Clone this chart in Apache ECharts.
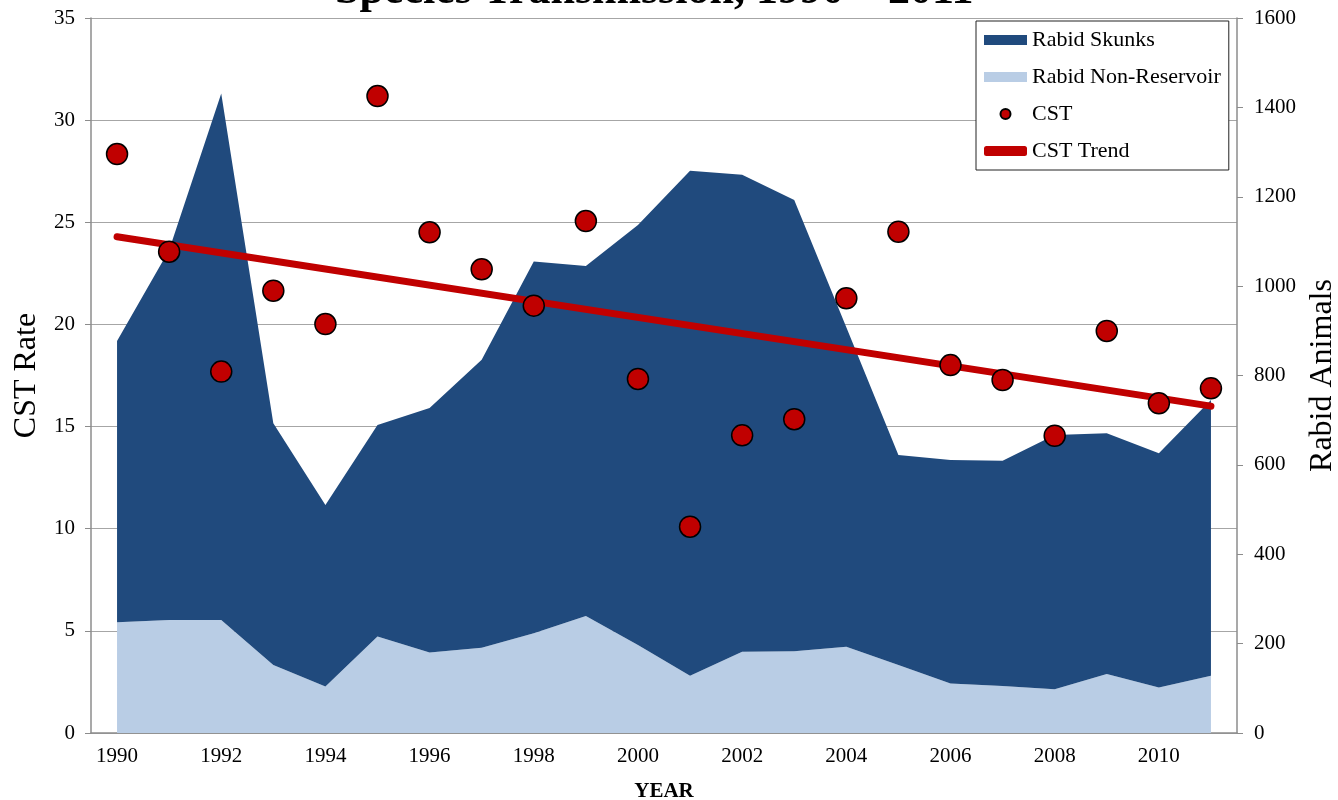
<!DOCTYPE html>
<html>
<head>
<meta charset="utf-8">
<title>Species Transmission</title>
<script src="https://cdn.jsdelivr.net/npm/echarts@6/dist/echarts.min.js"></script>
<style>
  html, body { margin: 0; padding: 0; background: #fff; }
  #chart { width: 1338px; height: 800px; }
</style>
</head>
<body>
<div id="chart"></div>
<script>
// values
var years = ['1990', '1991', '1992', '1993', '1994', '1995', '1996', '1997', '1998', '1999', '2000',
             '2001', '2002', '2003', '2004', '2005', '2006', '2007', '2008', '2009', '2010', '2011'];

// Rabid animals (right axis), stacked: non-reservoir at the bottom, skunks on top
var nonReservoir = [248, 253, 253, 152, 104, 216, 180, 191, 223, 262, 197,
                    128, 182, 183, 193, 152, 111, 105, 98, 132, 102, 128];
var skunks = [629, 828, 1178, 541, 406, 473, 547, 644, 832, 783, 940,
              1130, 1067, 1010, 715, 470, 500, 504, 569, 539, 524, 617];

// CST rate (left axis)
var cst = [28.34, 23.56, 17.69, 21.65, 20.02, 31.18, 24.51, 22.70, 20.92, 25.06, 17.33,
           10.10, 14.57, 15.36, 21.28, 24.54, 18.01, 17.28, 14.55, 19.68, 16.14, 16.87];

// straight trend line, start and end
var trendYears = ['1990', '2011'];
var trendValues = [24.29, 16.0];

var serif = 'Liberation Serif';
var axisGray = '#8c8c8c';

var chart = echarts.init(document.getElementById('chart'));

var option = {
    animation: false,
    backgroundColor: '#ffffff',
    textStyle: { fontFamily: serif },

    title: {
        text: 'Species Transmission, 1990 \u2013 2011',
        left: 330,
        top: -35,
        textStyle: { fontFamily: serif, fontSize: 44, fontWeight: 'bold', color: '#000' }
    },

    grid: {
        left: 91,
        right: 101,
        top: 18,
        bottom: 67,
        outerBoundsMode: 'none'
    },

    legend: {
        orient: 'vertical',
        left: 976,
        top: 21,
        padding: [8, 8, 8, 8],
        itemGap: 15,
        itemWidth: 43,
        itemHeight: 10,
        backgroundColor: '#fff',
        borderColor: '#222',
        borderWidth: 1,
        textStyle: { fontFamily: serif, fontSize: 22, color: '#000' },
        data: [
            { name: 'Rabid Skunks', icon: 'rect' },
            { name: 'Rabid Non-Reservoir', icon: 'rect' },
            { name: 'CST', icon: 'circle' },
            { name: 'CST Trend', icon: 'roundRect' }
        ]
    },

    xAxis: [{
        type: 'category',
        data: years,
        boundaryGap: true,
        name: 'YEAR',
        nameLocation: 'middle',
        nameGap: 48,
        nameTextStyle: { fontFamily: serif, fontSize: 21, fontWeight: 'bold', color: '#000' },
        axisLine: { lineStyle: { color: axisGray, width: 1.5 } },
        axisTick: { interval: 0, length: 6, lineStyle: { color: axisGray } },
        axisLabel: { interval: 1, margin: 13, fontFamily: serif, fontSize: 21, color: '#000' },
        splitLine: { show: false }
    }],

    yAxis: [
        {
            type: 'value',
            min: 0,
            max: 35,
            interval: 5,
            name: 'CST Rate',
            nameLocation: 'middle',
            nameGap: 48,
            nameTextStyle: { fontFamily: serif, fontSize: 32, color: '#000' },
            axisLine: { show: true, lineStyle: { color: axisGray, width: 1.5 } },
            axisTick: { show: true, length: 6, lineStyle: { color: axisGray } },
            axisLabel: { margin: 16, fontFamily: serif, fontSize: 21, color: '#000' },
            splitLine: { show: true, lineStyle: { color: '#a6a6a6', width: 1.2 } }
        },
        {
            type: 'value',
            min: 0,
            max: 1600,
            interval: 200,
            position: 'right',
            name: 'Rabid Animals',
            nameLocation: 'middle',
            nameGap: 64,
            nameTextStyle: { fontFamily: serif, fontSize: 32, color: '#000' },
            axisLine: { show: true, lineStyle: { color: axisGray, width: 1.5 } },
            axisTick: { show: true, length: 6, lineStyle: { color: axisGray } },
            axisLabel: {
                margin: 17, fontFamily: serif, fontSize: 21, color: '#000',
                formatter: function (v) { return String(v); }
            },
            splitLine: { show: false }
        }
    ],

    series: [
        {
            name: 'Rabid Non-Reservoir',
            type: 'line',
            yAxisIndex: 1,
            stack: 'animals',
            symbol: 'none',
            lineStyle: { width: 0 },
            itemStyle: { color: '#B9CDE5' },
            areaStyle: { color: '#B9CDE5', opacity: 1 },
            data: nonReservoir
        },
        {
            name: 'Rabid Skunks',
            type: 'line',
            yAxisIndex: 1,
            stack: 'animals',
            symbol: 'none',
            lineStyle: { width: 0 },
            itemStyle: { color: '#204A7D' },
            areaStyle: { color: '#204A7D', opacity: 1 },
            data: skunks
        },
        {
            name: 'CST Trend',
            type: 'line',
            yAxisIndex: 0,
            symbol: 'none',
            itemStyle: { color: '#C00000' },
            lineStyle: { color: '#C00000', width: 7, cap: 'round' },
            data: trendYears.map(function (y, i) { return [y, trendValues[i]]; }),
            z: 3
        },
        {
            name: 'CST',
            type: 'scatter',
            yAxisIndex: 0,
            symbol: 'circle',
            symbolSize: 21,
            itemStyle: { color: '#C00000', borderColor: '#000', borderWidth: 1.5, opacity: 1 },
            data: cst,
            z: 4
        }
    ]
};

chart.setOption(option);
</script>
</body>
</html>
